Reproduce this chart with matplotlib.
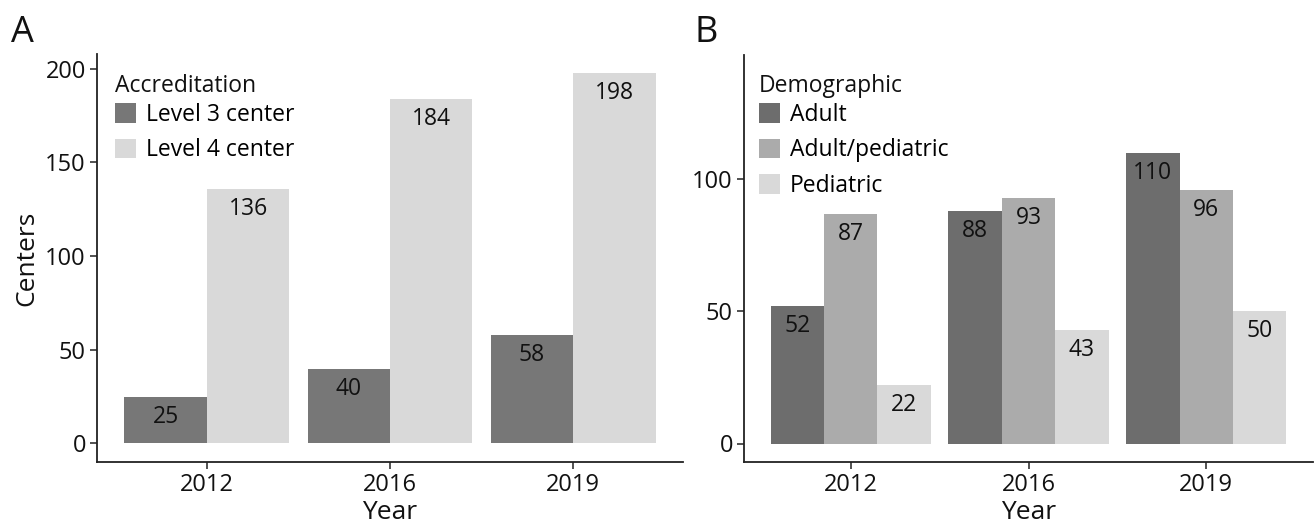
import matplotlib
matplotlib.use("Agg")
import matplotlib.pyplot as plt
import numpy as np
from matplotlib.patches import Patch

plt.rcParams['font.family'] = ['Open Sans', 'DejaVu Sans']

years = ["2012", "2016", "2019"]

# Panel A
acc_names = ["Level 3 center", "Level 4 center"]
level3 = [25, 40, 58]
level4 = [136, 184, 198]
acc_colors = ["#777777", "#d9d9d9"]

# Panel B
demo_names = ["Adult", "Adult/pediatric", "Pediatric"]
adult = [52, 88, 110]
adult_ped = [87, 93, 96]
pediatric = [22, 43, 50]
demo_colors = ["#6d6d6d", "#ababab", "#d9d9d9"]

W, H = 1315, 523
fig = plt.figure(figsize=(W / 100, H / 100), dpi=100)


def px_axes(l, r, t, b):
    return fig.add_axes([l / W, 1 - b / H, (r - l) / W, (b - t) / H])


def fx(x):
    return x / W


def fy(y):
    return 1 - y / H


axA = px_axes(97, 683, 54, 462)
axB = px_axes(744, 1313, 55, 462)

FS = 16.5
TICK_FS = 17
TITLE_FS = 19
LBL_OFF = -26 * 0.72
INK = "#111111"


def draw(ax, series, names, colors, ylim, yticks, title, leg_x, leg_title_y, leg_top):
    n = len(series)
    x = np.arange(1, len(years) + 1)
    w = 0.9 / n
    for i, (vals, nm, c) in enumerate(zip(series, names, colors)):
        xs = x - 0.45 + w * (i + 0.5)
        ax.bar(xs, vals, width=w, color=c, label=nm, linewidth=0)
        for xi, v in zip(xs, vals):
            ax.annotate(str(v), (xi, v), xytext=(0, LBL_OFF), textcoords="offset points",
                        ha="center", va="baseline", fontsize=FS, color=INK)
    ax.set_xlim(0.4, 3.6)
    ax.set_ylim(*ylim)
    ax.set_yticks(yticks)
    ax.set_xticks(x)
    ax.set_xticklabels(years)
    for s in ["top", "right"]:
        ax.spines[s].set_visible(False)
    for s in ["left", "bottom"]:
        ax.spines[s].set_linewidth(1.3)
        ax.spines[s].set_color("#222222")
    ax.tick_params(axis="both", length=5, width=1.1, color="#222222",
                   labelsize=TICK_FS, labelcolor=INK, pad=3)
    ax.set_xlabel("Year", fontsize=TITLE_FS, labelpad=2, color=INK)
    handles = [Patch(facecolor=c, edgecolor="none") for c in colors]
    ax.legend(handles, names, loc="upper left",
              bbox_to_anchor=(fx(leg_x), fy(leg_top)), bbox_transform=fig.transFigure,
              frameon=False, fontsize=FS, handlelength=0.92, handleheight=0.92,
              handletextpad=0.44, labelspacing=0.5, borderaxespad=0, borderpad=0)
    fig.text(fx(leg_x), fy(leg_title_y), title, fontsize=FS, color=INK,
             ha="left", va="baseline")


draw(axA, [level3, level4], acc_names, acc_colors, (-9.9, 207.9),
     [0, 50, 100, 150, 200], "Accreditation", 115, 92, 103)
axA.set_ylabel("Centers", fontsize=TITLE_FS, color=INK, labelpad=4)

draw(axB, [adult, adult_ped, pediatric], demo_names, demo_colors, (-7, 147),
     [0, 50, 100], "Demographic", 759, 92, 103)

fig.text(fx(11), fy(42), "A", fontsize=26, va="baseline", ha="left", color=INK)
fig.text(fx(694), fy(42), "B", fontsize=26, va="baseline", ha="left", color=INK)

fig.savefig("out.png", dpi=100)
